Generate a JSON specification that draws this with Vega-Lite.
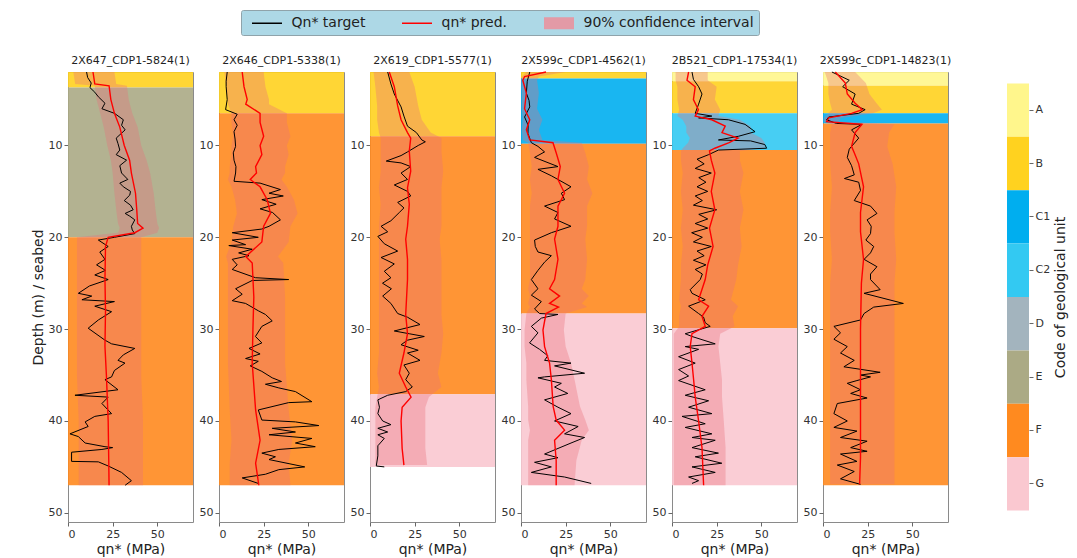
{
"$schema": "https://vega.github.io/schema/vega-lite/v6.json",
"background": "white",
"padding": {"left": 30, "top": 9, "right": 3, "bottom": 0},
"config": {
  "font": "DejaVu Sans",
  "view": {"stroke": "#8a8a8a"},
  "axis": {"labelFont": "DejaVu Sans", "labelFontSize": 11, "labelColor": "#333333", "titleFont": "DejaVu Sans", "titleFontSize": 14, "titleFontWeight": "normal", "titleColor": "#222222", "tickColor": "#666666", "tickSize": 4, "domain": false, "grid": false, "labelPadding": 2, "titlePadding": 3},
  "title": {"font": "DejaVu Sans", "fontSize": 11, "fontWeight": "normal", "color": "#222222", "offset": 3}
},
"datasets": {
"codes": [{"unit":"A"},{"unit":"B"},{"unit":"C1"},{"unit":"C2"},{"unit":"D"},{"unit":"E"},{"unit":"F"},{"unit":"G"}],
"units": [
{"well":"2X647_CDP1-5824(1)","unit":"B","top":2,"bottom":3.7},
{"well":"2X647_CDP1-5824(1)","unit":"E","top":3.7,"bottom":20},
{"well":"2X647_CDP1-5824(1)","unit":"F","top":20,"bottom":47},
{"well":"2X646_CDP1-5338(1)","unit":"B","top":2,"bottom":6.5},
{"well":"2X646_CDP1-5338(1)","unit":"F","top":6.5,"bottom":47},
{"well":"2X619_CDP1-5577(1)","unit":"B","top":2,"bottom":9},
{"well":"2X619_CDP1-5577(1)","unit":"F","top":9,"bottom":37.1},
{"well":"2X619_CDP1-5577(1)","unit":"G","top":37.1,"bottom":45},
{"well":"2X599c_CDP1-4562(1)","unit":"B","top":2,"bottom":2.7},
{"well":"2X599c_CDP1-4562(1)","unit":"C1","top":2.7,"bottom":9.8},
{"well":"2X599c_CDP1-4562(1)","unit":"F","top":9.8,"bottom":28.3},
{"well":"2X599c_CDP1-4562(1)","unit":"G","top":28.3,"bottom":47},
{"well":"2B521_CDP1-17534(1)","unit":"A","top":2,"bottom":3},
{"well":"2B521_CDP1-17534(1)","unit":"B","top":3,"bottom":6.5},
{"well":"2B521_CDP1-17534(1)","unit":"C2","top":6.5,"bottom":10.5},
{"well":"2B521_CDP1-17534(1)","unit":"F","top":10.5,"bottom":29.9},
{"well":"2B521_CDP1-17534(1)","unit":"G","top":29.9,"bottom":47},
{"well":"2X599c_CDP1-14823(1)","unit":"A","top":2,"bottom":3.5},
{"well":"2X599c_CDP1-14823(1)","unit":"B","top":3.5,"bottom":6.5},
{"well":"2X599c_CDP1-14823(1)","unit":"C1","top":6.5,"bottom":7.6},
{"well":"2X599c_CDP1-14823(1)","unit":"F","top":7.6,"bottom":47}
],
"pred": [
{"well":"2X647_CDP1-5824(1)","depth":2,"pred":14,"lo":3,"hi":26},
{"well":"2X647_CDP1-5824(1)","depth":3.3,"pred":15,"lo":4,"hi":27},
{"well":"2X647_CDP1-5824(1)","depth":3.5,"pred":23,"lo":15,"hi":33},
{"well":"2X647_CDP1-5824(1)","depth":5,"pred":24,"lo":16,"hi":34},
{"well":"2X647_CDP1-5824(1)","depth":6.5,"pred":26,"lo":18,"hi":36},
{"well":"2X647_CDP1-5824(1)","depth":8,"pred":29,"lo":20,"hi":39},
{"well":"2X647_CDP1-5824(1)","depth":10,"pred":31.5,"lo":22,"hi":41},
{"well":"2X647_CDP1-5824(1)","depth":11.6,"pred":34.5,"lo":24,"hi":44},
{"well":"2X647_CDP1-5824(1)","depth":13,"pred":35.5,"lo":25,"hi":46},
{"well":"2X647_CDP1-5824(1)","depth":15.2,"pred":37.8,"lo":26,"hi":48},
{"well":"2X647_CDP1-5824(1)","depth":17,"pred":38.5,"lo":27,"hi":49},
{"well":"2X647_CDP1-5824(1)","depth":18.5,"pred":39,"lo":28,"hi":50},
{"well":"2X647_CDP1-5824(1)","depth":19,"pred":42,"lo":29,"hi":51},
{"well":"2X647_CDP1-5824(1)","depth":19.5,"pred":37.4,"lo":28,"hi":50},
{"well":"2X647_CDP1-5824(1)","depth":20,"pred":22.5,"lo":5,"hi":41},
{"well":"2X647_CDP1-5824(1)","depth":21,"pred":21,"lo":5,"hi":41},
{"well":"2X647_CDP1-5824(1)","depth":24.6,"pred":20.7,"lo":5,"hi":41},
{"well":"2X647_CDP1-5824(1)","depth":28,"pred":21,"lo":5,"hi":41},
{"well":"2X647_CDP1-5824(1)","depth":31.9,"pred":20.7,"lo":5,"hi":41},
{"well":"2X647_CDP1-5824(1)","depth":35,"pred":21.5,"lo":5,"hi":41},
{"well":"2X647_CDP1-5824(1)","depth":40,"pred":22.5,"lo":6,"hi":42},
{"well":"2X647_CDP1-5824(1)","depth":44,"pred":22.8,"lo":6,"hi":42},
{"well":"2X647_CDP1-5824(1)","depth":47,"pred":23,"lo":6,"hi":42},
{"well":"2X646_CDP1-5338(1)","depth":2,"pred":13,"lo":3,"hi":25},
{"well":"2X646_CDP1-5338(1)","depth":3.6,"pred":14,"lo":4,"hi":26},
{"well":"2X646_CDP1-5338(1)","depth":5,"pred":15.8,"lo":5,"hi":28},
{"well":"2X646_CDP1-5338(1)","depth":5.5,"pred":15,"lo":5,"hi":28},
{"well":"2X646_CDP1-5338(1)","depth":6.5,"pred":23,"lo":7,"hi":38},
{"well":"2X646_CDP1-5338(1)","depth":7.5,"pred":23,"lo":7,"hi":38},
{"well":"2X646_CDP1-5338(1)","depth":9,"pred":25,"lo":8,"hi":40},
{"well":"2X646_CDP1-5338(1)","depth":10,"pred":23,"lo":7,"hi":38},
{"well":"2X646_CDP1-5338(1)","depth":11,"pred":24,"lo":7,"hi":39},
{"well":"2X646_CDP1-5338(1)","depth":12.3,"pred":20.5,"lo":6,"hi":37},
{"well":"2X646_CDP1-5338(1)","depth":13,"pred":21,"lo":6,"hi":37},
{"well":"2X646_CDP1-5338(1)","depth":13.7,"pred":17.5,"lo":5,"hi":35},
{"well":"2X646_CDP1-5338(1)","depth":14.5,"pred":23,"lo":7,"hi":38},
{"well":"2X646_CDP1-5338(1)","depth":15.9,"pred":27,"lo":9,"hi":42},
{"well":"2X646_CDP1-5338(1)","depth":17.4,"pred":28.8,"lo":10,"hi":44},
{"well":"2X646_CDP1-5338(1)","depth":18.8,"pred":25,"lo":8,"hi":40},
{"well":"2X646_CDP1-5338(1)","depth":20.5,"pred":24,"lo":7,"hi":39},
{"well":"2X646_CDP1-5338(1)","depth":22.1,"pred":15,"lo":4,"hi":33},
{"well":"2X646_CDP1-5338(1)","depth":22.8,"pred":18.6,"lo":5,"hi":36},
{"well":"2X646_CDP1-5338(1)","depth":26.5,"pred":19.5,"lo":5,"hi":37},
{"well":"2X646_CDP1-5338(1)","depth":30,"pred":19,"lo":5,"hi":37},
{"well":"2X646_CDP1-5338(1)","depth":33.7,"pred":18.6,"lo":5,"hi":37},
{"well":"2X646_CDP1-5338(1)","depth":38.8,"pred":20.5,"lo":6,"hi":39},
{"well":"2X646_CDP1-5338(1)","depth":42.1,"pred":23,"lo":7,"hi":41},
{"well":"2X646_CDP1-5338(1)","depth":44.6,"pred":20.5,"lo":6,"hi":39},
{"well":"2X646_CDP1-5338(1)","depth":47,"pred":22.3,"lo":6,"hi":40},
{"well":"2X619_CDP1-5577(1)","depth":2,"pred":10.8,"lo":2,"hi":22},
{"well":"2X619_CDP1-5577(1)","depth":3.6,"pred":13.6,"lo":3,"hi":25},
{"well":"2X619_CDP1-5577(1)","depth":5.7,"pred":15.5,"lo":4,"hi":27},
{"well":"2X619_CDP1-5577(1)","depth":7.2,"pred":17.4,"lo":4,"hi":29},
{"well":"2X619_CDP1-5577(1)","depth":8.6,"pred":21,"lo":5,"hi":34},
{"well":"2X619_CDP1-5577(1)","depth":9.2,"pred":22.8,"lo":6,"hi":40},
{"well":"2X619_CDP1-5577(1)","depth":10.6,"pred":22,"lo":6,"hi":40},
{"well":"2X619_CDP1-5577(1)","depth":12.8,"pred":22.8,"lo":6,"hi":41},
{"well":"2X619_CDP1-5577(1)","depth":14.6,"pred":21,"lo":5,"hi":40},
{"well":"2X619_CDP1-5577(1)","depth":16.4,"pred":22,"lo":6,"hi":40},
{"well":"2X619_CDP1-5577(1)","depth":18.8,"pred":21,"lo":5,"hi":40},
{"well":"2X619_CDP1-5577(1)","depth":20.2,"pred":20,"lo":5,"hi":39},
{"well":"2X619_CDP1-5577(1)","depth":22.4,"pred":21,"lo":5,"hi":40},
{"well":"2X619_CDP1-5577(1)","depth":24.6,"pred":21,"lo":5,"hi":40},
{"well":"2X619_CDP1-5577(1)","depth":28.4,"pred":20,"lo":5,"hi":40},
{"well":"2X619_CDP1-5577(1)","depth":30.5,"pred":21,"lo":5,"hi":41},
{"well":"2X619_CDP1-5577(1)","depth":32.6,"pred":19,"lo":5,"hi":40},
{"well":"2X619_CDP1-5577(1)","depth":34.8,"pred":16.4,"lo":4,"hi":38},
{"well":"2X619_CDP1-5577(1)","depth":36.3,"pred":20,"lo":5,"hi":40},
{"well":"2X619_CDP1-5577(1)","depth":37.4,"pred":23,"lo":4,"hi":33},
{"well":"2X619_CDP1-5577(1)","depth":38.5,"pred":18,"lo":3,"hi":31},
{"well":"2X619_CDP1-5577(1)","depth":40,"pred":17.4,"lo":3,"hi":31},
{"well":"2X619_CDP1-5577(1)","depth":43,"pred":18,"lo":3,"hi":31},
{"well":"2X619_CDP1-5577(1)","depth":44.8,"pred":19,"lo":3,"hi":32},
{"well":"2X599c_CDP1-4562(1)","depth":2,"pred":14,"lo":3,"hi":25},
{"well":"2X599c_CDP1-4562(1)","depth":2.5,"pred":2,"lo":0.5,"hi":10},
{"well":"2X599c_CDP1-4562(1)","depth":2.9,"pred":1,"lo":0.3,"hi":9},
{"well":"2X599c_CDP1-4562(1)","depth":4.3,"pred":3,"lo":0.5,"hi":10},
{"well":"2X599c_CDP1-4562(1)","depth":6,"pred":2,"lo":0.5,"hi":9},
{"well":"2X599c_CDP1-4562(1)","depth":7.2,"pred":4.9,"lo":1,"hi":12},
{"well":"2X599c_CDP1-4562(1)","depth":8.3,"pred":3,"lo":0.5,"hi":10},
{"well":"2X599c_CDP1-4562(1)","depth":9.4,"pred":4.9,"lo":1,"hi":12},
{"well":"2X599c_CDP1-4562(1)","depth":9.7,"pred":17.9,"lo":4,"hi":34},
{"well":"2X599c_CDP1-4562(1)","depth":10.8,"pred":19.7,"lo":5,"hi":36},
{"well":"2X599c_CDP1-4562(1)","depth":12.3,"pred":22,"lo":6,"hi":38},
{"well":"2X599c_CDP1-4562(1)","depth":13.7,"pred":20.7,"lo":5,"hi":37},
{"well":"2X599c_CDP1-4562(1)","depth":15.2,"pred":24.4,"lo":6,"hi":40},
{"well":"2X599c_CDP1-4562(1)","depth":16.6,"pred":20.7,"lo":5,"hi":37},
{"well":"2X599c_CDP1-4562(1)","depth":18.8,"pred":20.7,"lo":5,"hi":37},
{"well":"2X599c_CDP1-4562(1)","depth":20.2,"pred":18.8,"lo":5,"hi":36},
{"well":"2X599c_CDP1-4562(1)","depth":22.4,"pred":20.7,"lo":5,"hi":37},
{"well":"2X599c_CDP1-4562(1)","depth":24.6,"pred":18.8,"lo":5,"hi":36},
{"well":"2X599c_CDP1-4562(1)","depth":25.6,"pred":16,"lo":4,"hi":34},
{"well":"2X599c_CDP1-4562(1)","depth":26.4,"pred":21.6,"lo":5,"hi":38},
{"well":"2X599c_CDP1-4562(1)","depth":27.2,"pred":16,"lo":4,"hi":34},
{"well":"2X599c_CDP1-4562(1)","depth":27.6,"pred":21,"lo":5,"hi":37},
{"well":"2X599c_CDP1-4562(1)","depth":28.3,"pred":14,"lo":3,"hi":25},
{"well":"2X599c_CDP1-4562(1)","depth":30.1,"pred":12.3,"lo":2,"hi":24},
{"well":"2X599c_CDP1-4562(1)","depth":31.9,"pred":13.2,"lo":2,"hi":25},
{"well":"2X599c_CDP1-4562(1)","depth":33.7,"pred":16,"lo":3,"hi":28},
{"well":"2X599c_CDP1-4562(1)","depth":35.5,"pred":17,"lo":3,"hi":30},
{"well":"2X599c_CDP1-4562(1)","depth":38.4,"pred":18,"lo":4,"hi":33},
{"well":"2X599c_CDP1-4562(1)","depth":39.9,"pred":19.7,"lo":4,"hi":36},
{"well":"2X599c_CDP1-4562(1)","depth":41,"pred":24.4,"lo":5,"hi":38},
{"well":"2X599c_CDP1-4562(1)","depth":42.1,"pred":18.8,"lo":4,"hi":34},
{"well":"2X599c_CDP1-4562(1)","depth":44.3,"pred":19.7,"lo":4,"hi":31},
{"well":"2X599c_CDP1-4562(1)","depth":47,"pred":19.7,"lo":4,"hi":30},
{"well":"2B521_CDP1-17534(1)","depth":2,"pred":9.3,"lo":2,"hi":20},
{"well":"2B521_CDP1-17534(1)","depth":2.9,"pred":8.4,"lo":2,"hi":20},
{"well":"2B521_CDP1-17534(1)","depth":3.6,"pred":13,"lo":3,"hi":25},
{"well":"2B521_CDP1-17534(1)","depth":5,"pred":12,"lo":3,"hi":24},
{"well":"2B521_CDP1-17534(1)","depth":6.1,"pred":14.8,"lo":4,"hi":27},
{"well":"2B521_CDP1-17534(1)","depth":6.8,"pred":13,"lo":3,"hi":26},
{"well":"2B521_CDP1-17534(1)","depth":7.2,"pred":22.3,"lo":6,"hi":38},
{"well":"2B521_CDP1-17534(1)","depth":7.9,"pred":29.8,"lo":8,"hi":44},
{"well":"2B521_CDP1-17534(1)","depth":8.6,"pred":28,"lo":8,"hi":44},
{"well":"2B521_CDP1-17534(1)","depth":9.2,"pred":37,"lo":10,"hi":50},
{"well":"2B521_CDP1-17534(1)","depth":9.7,"pred":32,"lo":9,"hi":52},
{"well":"2B521_CDP1-17534(1)","depth":10.3,"pred":24,"lo":6,"hi":52},
{"well":"2B521_CDP1-17534(1)","depth":10.6,"pred":21,"lo":5,"hi":38},
{"well":"2B521_CDP1-17534(1)","depth":11.6,"pred":22,"lo":5,"hi":38},
{"well":"2B521_CDP1-17534(1)","depth":13,"pred":24,"lo":6,"hi":40},
{"well":"2B521_CDP1-17534(1)","depth":15,"pred":22,"lo":5,"hi":38},
{"well":"2B521_CDP1-17534(1)","depth":17,"pred":24,"lo":6,"hi":40},
{"well":"2B521_CDP1-17534(1)","depth":19,"pred":21,"lo":5,"hi":38},
{"well":"2B521_CDP1-17534(1)","depth":21,"pred":23,"lo":6,"hi":39},
{"well":"2B521_CDP1-17534(1)","depth":23,"pred":20,"lo":5,"hi":37},
{"well":"2B521_CDP1-17534(1)","depth":24.6,"pred":18.6,"lo":5,"hi":36},
{"well":"2B521_CDP1-17534(1)","depth":26.8,"pred":14.9,"lo":4,"hi":33},
{"well":"2B521_CDP1-17534(1)","depth":27.5,"pred":20.5,"lo":5,"hi":37},
{"well":"2B521_CDP1-17534(1)","depth":28.6,"pred":16.8,"lo":4,"hi":34},
{"well":"2B521_CDP1-17534(1)","depth":29.7,"pred":18.6,"lo":4,"hi":35},
{"well":"2B521_CDP1-17534(1)","depth":30.5,"pred":11.2,"lo":1,"hi":27},
{"well":"2B521_CDP1-17534(1)","depth":31.9,"pred":10.2,"lo":1,"hi":26},
{"well":"2B521_CDP1-17534(1)","depth":33.7,"pred":11.2,"lo":1,"hi":27},
{"well":"2B521_CDP1-17534(1)","depth":35.5,"pred":12.1,"lo":1,"hi":28},
{"well":"2B521_CDP1-17534(1)","depth":37.4,"pred":13,"lo":1,"hi":28},
{"well":"2B521_CDP1-17534(1)","depth":40,"pred":14.9,"lo":1,"hi":29},
{"well":"2B521_CDP1-17534(1)","depth":42.9,"pred":16.8,"lo":1,"hi":30},
{"well":"2B521_CDP1-17534(1)","depth":47,"pred":17.7,"lo":1,"hi":30},
{"well":"2X599c_CDP1-14823(1)","depth":2,"pred":6.9,"lo":1,"hi":18},
{"well":"2X599c_CDP1-14823(1)","depth":3.2,"pred":12.5,"lo":3,"hi":24},
{"well":"2X599c_CDP1-14823(1)","depth":4.4,"pred":13.6,"lo":3,"hi":26},
{"well":"2X599c_CDP1-14823(1)","depth":5.4,"pred":18,"lo":4,"hi":30},
{"well":"2X599c_CDP1-14823(1)","depth":6.1,"pred":22,"lo":5,"hi":33},
{"well":"2X599c_CDP1-14823(1)","depth":6.5,"pred":16,"lo":3,"hi":28},
{"well":"2X599c_CDP1-14823(1)","depth":7,"pred":3.2,"lo":0.5,"hi":10},
{"well":"2X599c_CDP1-14823(1)","depth":7.4,"pred":2,"lo":0.5,"hi":9},
{"well":"2X599c_CDP1-14823(1)","depth":7.7,"pred":21.8,"lo":5,"hi":40},
{"well":"2X599c_CDP1-14823(1)","depth":8.6,"pred":18,"lo":4,"hi":37},
{"well":"2X599c_CDP1-14823(1)","depth":10.1,"pred":16,"lo":4,"hi":36},
{"well":"2X599c_CDP1-14823(1)","depth":10.8,"pred":17.5,"lo":4,"hi":37},
{"well":"2X599c_CDP1-14823(1)","depth":12,"pred":20,"lo":4,"hi":39},
{"well":"2X599c_CDP1-14823(1)","depth":14.5,"pred":22.7,"lo":5,"hi":41},
{"well":"2X599c_CDP1-14823(1)","depth":17.3,"pred":21,"lo":4,"hi":40},
{"well":"2X599c_CDP1-14823(1)","depth":19.4,"pred":21,"lo":4,"hi":40},
{"well":"2X599c_CDP1-14823(1)","depth":22.4,"pred":22.7,"lo":5,"hi":41},
{"well":"2X599c_CDP1-14823(1)","depth":25,"pred":21.5,"lo":4,"hi":40},
{"well":"2X599c_CDP1-14823(1)","depth":30,"pred":21,"lo":4,"hi":40},
{"well":"2X599c_CDP1-14823(1)","depth":35,"pred":21,"lo":4,"hi":40},
{"well":"2X599c_CDP1-14823(1)","depth":40,"pred":21,"lo":4,"hi":40},
{"well":"2X599c_CDP1-14823(1)","depth":44,"pred":21,"lo":4,"hi":40},
{"well":"2X599c_CDP1-14823(1)","depth":46.9,"pred":20.5,"lo":4,"hi":40}
],
"target": [
{"well":"2X647_CDP1-5824(1)","depth":2,"qn":10.4},{"well":"2X647_CDP1-5824(1)","depth":2.6,"qn":11},{"well":"2X647_CDP1-5824(1)","depth":3.2,"qn":13},{"well":"2X647_CDP1-5824(1)","depth":3.7,"qn":12.3},{"well":"2X647_CDP1-5824(1)","depth":4.2,"qn":15},{"well":"2X647_CDP1-5824(1)","depth":4.7,"qn":17},{"well":"2X647_CDP1-5824(1)","depth":5.4,"qn":20.7},{"well":"2X647_CDP1-5824(1)","depth":6,"qn":19},{"well":"2X647_CDP1-5824(1)","depth":6.5,"qn":26},{"well":"2X647_CDP1-5824(1)","depth":7.2,"qn":31},{"well":"2X647_CDP1-5824(1)","depth":7.8,"qn":30},{"well":"2X647_CDP1-5824(1)","depth":8.3,"qn":32},{"well":"2X647_CDP1-5824(1)","depth":9.2,"qn":27},{"well":"2X647_CDP1-5824(1)","depth":9.8,"qn":28},{"well":"2X647_CDP1-5824(1)","depth":10.5,"qn":29},{"well":"2X647_CDP1-5824(1)","depth":11,"qn":27},{"well":"2X647_CDP1-5824(1)","depth":11.6,"qn":32.8},{"well":"2X647_CDP1-5824(1)","depth":12.2,"qn":29},{"well":"2X647_CDP1-5824(1)","depth":13,"qn":30},{"well":"2X647_CDP1-5824(1)","depth":13.7,"qn":33.5},{"well":"2X647_CDP1-5824(1)","depth":14.1,"qn":29},{"well":"2X647_CDP1-5824(1)","depth":14.5,"qn":31},{"well":"2X647_CDP1-5824(1)","depth":15,"qn":35},{"well":"2X647_CDP1-5824(1)","depth":15.4,"qn":34.6},{"well":"2X647_CDP1-5824(1)","depth":16,"qn":31.5},{"well":"2X647_CDP1-5824(1)","depth":16.5,"qn":35},{"well":"2X647_CDP1-5824(1)","depth":17,"qn":36.5},{"well":"2X647_CDP1-5824(1)","depth":17.4,"qn":32},{"well":"2X647_CDP1-5824(1)","depth":17.7,"qn":34.6},{"well":"2X647_CDP1-5824(1)","depth":18.1,"qn":37.4},{"well":"2X647_CDP1-5824(1)","depth":18.8,"qn":35.5},{"well":"2X647_CDP1-5824(1)","depth":19.2,"qn":36},{"well":"2X647_CDP1-5824(1)","depth":19.6,"qn":37.4},{"well":"2X647_CDP1-5824(1)","depth":20,"qn":26},{"well":"2X647_CDP1-5824(1)","depth":20.3,"qn":17},{"well":"2X647_CDP1-5824(1)","depth":21,"qn":22.5},{"well":"2X647_CDP1-5824(1)","depth":21.6,"qn":17.8},{"well":"2X647_CDP1-5824(1)","depth":22.4,"qn":20.7},{"well":"2X647_CDP1-5824(1)","depth":23,"qn":16},{"well":"2X647_CDP1-5824(1)","depth":23.6,"qn":21},{"well":"2X647_CDP1-5824(1)","depth":24.1,"qn":15},{"well":"2X647_CDP1-5824(1)","depth":24.6,"qn":22.5},{"well":"2X647_CDP1-5824(1)","depth":25.3,"qn":12},{"well":"2X647_CDP1-5824(1)","depth":26.1,"qn":5.8},{"well":"2X647_CDP1-5824(1)","depth":26.4,"qn":13.3},{"well":"2X647_CDP1-5824(1)","depth":26.8,"qn":7.8},{"well":"2X647_CDP1-5824(1)","depth":27,"qn":26},{"well":"2X647_CDP1-5824(1)","depth":27.5,"qn":15},{"well":"2X647_CDP1-5824(1)","depth":28.1,"qn":24.4},{"well":"2X647_CDP1-5824(1)","depth":29,"qn":17},{"well":"2X647_CDP1-5824(1)","depth":29.9,"qn":11.3},{"well":"2X647_CDP1-5824(1)","depth":31.2,"qn":20.7},{"well":"2X647_CDP1-5824(1)","depth":31.6,"qn":24.4},{"well":"2X647_CDP1-5824(1)","depth":32.1,"qn":37.4},{"well":"2X647_CDP1-5824(1)","depth":32.8,"qn":31},{"well":"2X647_CDP1-5824(1)","depth":33.4,"qn":28},{"well":"2X647_CDP1-5824(1)","depth":33.7,"qn":31.9},{"well":"2X647_CDP1-5824(1)","depth":34.5,"qn":26},{"well":"2X647_CDP1-5824(1)","depth":35.2,"qn":24.4},{"well":"2X647_CDP1-5824(1)","depth":35.5,"qn":20.7},{"well":"2X647_CDP1-5824(1)","depth":36.6,"qn":28},{"well":"2X647_CDP1-5824(1)","depth":37.2,"qn":3.9},{"well":"2X647_CDP1-5824(1)","depth":37.4,"qn":22.5},{"well":"2X647_CDP1-5824(1)","depth":38.1,"qn":19},{"well":"2X647_CDP1-5824(1)","depth":39.2,"qn":24.4},{"well":"2X647_CDP1-5824(1)","depth":39.5,"qn":15},{"well":"2X647_CDP1-5824(1)","depth":40.1,"qn":9.6},{"well":"2X647_CDP1-5824(1)","depth":40.6,"qn":11.3},{"well":"2X647_CDP1-5824(1)","depth":41.4,"qn":1.1},{"well":"2X647_CDP1-5824(1)","depth":41.7,"qn":5.8},{"well":"2X647_CDP1-5824(1)","depth":42.4,"qn":9.6},{"well":"2X647_CDP1-5824(1)","depth":42.8,"qn":20.7},{"well":"2X647_CDP1-5824(1)","depth":42.9,"qn":25},{"well":"2X647_CDP1-5824(1)","depth":43.1,"qn":19},{"well":"2X647_CDP1-5824(1)","depth":43.4,"qn":2},{"well":"2X647_CDP1-5824(1)","depth":44.4,"qn":2},{"well":"2X647_CDP1-5824(1)","depth":44.45,"qn":17},{"well":"2X647_CDP1-5824(1)","depth":44.9,"qn":22.5},{"well":"2X647_CDP1-5824(1)","depth":45.6,"qn":30},{"well":"2X647_CDP1-5824(1)","depth":46.5,"qn":35.5},{"well":"2X647_CDP1-5824(1)","depth":47,"qn":32},
{"well":"2X646_CDP1-5338(1)","depth":2,"qn":4.6},{"well":"2X646_CDP1-5338(1)","depth":3,"qn":4},{"well":"2X646_CDP1-5338(1)","depth":3.6,"qn":4},{"well":"2X646_CDP1-5338(1)","depth":5,"qn":4.6},{"well":"2X646_CDP1-5338(1)","depth":6.1,"qn":3.7},{"well":"2X646_CDP1-5338(1)","depth":6.6,"qn":10.2},{"well":"2X646_CDP1-5338(1)","depth":7.2,"qn":8.4},{"well":"2X646_CDP1-5338(1)","depth":7.8,"qn":10.2},{"well":"2X646_CDP1-5338(1)","depth":8.5,"qn":8.4},{"well":"2X646_CDP1-5338(1)","depth":9.3,"qn":9},{"well":"2X646_CDP1-5338(1)","depth":10.1,"qn":9.3},{"well":"2X646_CDP1-5338(1)","depth":10.8,"qn":8},{"well":"2X646_CDP1-5338(1)","depth":11.6,"qn":8.4},{"well":"2X646_CDP1-5338(1)","depth":12.3,"qn":9.5},{"well":"2X646_CDP1-5338(1)","depth":13,"qn":9.3},{"well":"2X646_CDP1-5338(1)","depth":13.9,"qn":8.4},{"well":"2X646_CDP1-5338(1)","depth":14.1,"qn":23},{"well":"2X646_CDP1-5338(1)","depth":14.8,"qn":34.4},{"well":"2X646_CDP1-5338(1)","depth":15.2,"qn":28},{"well":"2X646_CDP1-5338(1)","depth":15.5,"qn":36},{"well":"2X646_CDP1-5338(1)","depth":15.9,"qn":24},{"well":"2X646_CDP1-5338(1)","depth":16.4,"qn":32},{"well":"2X646_CDP1-5338(1)","depth":16.9,"qn":23},{"well":"2X646_CDP1-5338(1)","depth":17.3,"qn":30},{"well":"2X646_CDP1-5338(1)","depth":18.1,"qn":34.4},{"well":"2X646_CDP1-5338(1)","depth":18.8,"qn":28},{"well":"2X646_CDP1-5338(1)","depth":19.1,"qn":24},{"well":"2X646_CDP1-5338(1)","depth":19.5,"qn":7.4},{"well":"2X646_CDP1-5338(1)","depth":20,"qn":22},{"well":"2X646_CDP1-5338(1)","depth":20.3,"qn":7.4},{"well":"2X646_CDP1-5338(1)","depth":20.8,"qn":14.9},{"well":"2X646_CDP1-5338(1)","depth":20.9,"qn":5.5},{"well":"2X646_CDP1-5338(1)","depth":21.3,"qn":18.6},{"well":"2X646_CDP1-5338(1)","depth":21.7,"qn":11},{"well":"2X646_CDP1-5338(1)","depth":22,"qn":16.8},{"well":"2X646_CDP1-5338(1)","depth":22.4,"qn":7.4},{"well":"2X646_CDP1-5338(1)","depth":23,"qn":10.2},{"well":"2X646_CDP1-5338(1)","depth":23.5,"qn":7.4},{"well":"2X646_CDP1-5338(1)","depth":24.4,"qn":20.4},{"well":"2X646_CDP1-5338(1)","depth":24.6,"qn":39},{"well":"2X646_CDP1-5338(1)","depth":24.7,"qn":18.6},{"well":"2X646_CDP1-5338(1)","depth":25.6,"qn":9.3},{"well":"2X646_CDP1-5338(1)","depth":26.2,"qn":13},{"well":"2X646_CDP1-5338(1)","depth":26.9,"qn":7.4},{"well":"2X646_CDP1-5338(1)","depth":27.2,"qn":14.9},{"well":"2X646_CDP1-5338(1)","depth":28,"qn":22},{"well":"2X646_CDP1-5338(1)","depth":28.4,"qn":26},{"well":"2X646_CDP1-5338(1)","depth":29.1,"qn":29.8},{"well":"2X646_CDP1-5338(1)","depth":29.7,"qn":24},{"well":"2X646_CDP1-5338(1)","depth":30.8,"qn":20.4},{"well":"2X646_CDP1-5338(1)","depth":31.5,"qn":24},{"well":"2X646_CDP1-5338(1)","depth":32.1,"qn":16.8},{"well":"2X646_CDP1-5338(1)","depth":32.7,"qn":23},{"well":"2X646_CDP1-5338(1)","depth":33.2,"qn":14.9},{"well":"2X646_CDP1-5338(1)","depth":33.5,"qn":22},{"well":"2X646_CDP1-5338(1)","depth":34,"qn":17.5},{"well":"2X646_CDP1-5338(1)","depth":34.6,"qn":24},{"well":"2X646_CDP1-5338(1)","depth":35.3,"qn":29.8},{"well":"2X646_CDP1-5338(1)","depth":35.7,"qn":35},{"well":"2X646_CDP1-5338(1)","depth":36,"qn":26},{"well":"2X646_CDP1-5338(1)","depth":36.4,"qn":33.5},{"well":"2X646_CDP1-5338(1)","depth":36.8,"qn":42.8},{"well":"2X646_CDP1-5338(1)","depth":37.9,"qn":52},{"well":"2X646_CDP1-5338(1)","depth":38,"qn":39},{"well":"2X646_CDP1-5338(1)","depth":38.8,"qn":22},{"well":"2X646_CDP1-5338(1)","depth":39.9,"qn":24},{"well":"2X646_CDP1-5338(1)","depth":40.1,"qn":42.8},{"well":"2X646_CDP1-5338(1)","depth":40.5,"qn":55.9},{"well":"2X646_CDP1-5338(1)","depth":40.8,"qn":29.8},{"well":"2X646_CDP1-5338(1)","depth":41.2,"qn":42.8},{"well":"2X646_CDP1-5338(1)","depth":41.5,"qn":28},{"well":"2X646_CDP1-5338(1)","depth":41.9,"qn":52},{"well":"2X646_CDP1-5338(1)","depth":42.4,"qn":42.8},{"well":"2X646_CDP1-5338(1)","depth":42.8,"qn":53.9},{"well":"2X646_CDP1-5338(1)","depth":43.1,"qn":33.5},{"well":"2X646_CDP1-5338(1)","depth":43.5,"qn":24},{"well":"2X646_CDP1-5338(1)","depth":43.9,"qn":31.6},{"well":"2X646_CDP1-5338(1)","depth":44.2,"qn":28},{"well":"2X646_CDP1-5338(1)","depth":45,"qn":48},{"well":"2X646_CDP1-5338(1)","depth":45.3,"qn":33.5},{"well":"2X646_CDP1-5338(1)","depth":45.8,"qn":26},{"well":"2X646_CDP1-5338(1)","depth":46.2,"qn":13},{"well":"2X646_CDP1-5338(1)","depth":46.8,"qn":22},
{"well":"2X619_CDP1-5577(1)","depth":2,"qn":9.9},{"well":"2X619_CDP1-5577(1)","depth":3.3,"qn":11.7},{"well":"2X619_CDP1-5577(1)","depth":4.4,"qn":13.6},{"well":"2X619_CDP1-5577(1)","depth":5.8,"qn":17.4},{"well":"2X619_CDP1-5577(1)","depth":6.8,"qn":19},{"well":"2X619_CDP1-5577(1)","depth":7.9,"qn":21},{"well":"2X619_CDP1-5577(1)","depth":8.6,"qn":26},{"well":"2X619_CDP1-5577(1)","depth":9.4,"qn":29},{"well":"2X619_CDP1-5577(1)","depth":9.6,"qn":31},{"well":"2X619_CDP1-5577(1)","depth":10,"qn":27},{"well":"2X619_CDP1-5577(1)","depth":10.7,"qn":21},{"well":"2X619_CDP1-5577(1)","depth":11.1,"qn":17.4},{"well":"2X619_CDP1-5577(1)","depth":11.7,"qn":9.1},{"well":"2X619_CDP1-5577(1)","depth":11.9,"qn":17.4},{"well":"2X619_CDP1-5577(1)","depth":12.3,"qn":22.8},{"well":"2X619_CDP1-5577(1)","depth":13,"qn":17.4},{"well":"2X619_CDP1-5577(1)","depth":13.7,"qn":21},{"well":"2X619_CDP1-5577(1)","depth":14.3,"qn":13.6},{"well":"2X619_CDP1-5577(1)","depth":15,"qn":21},{"well":"2X619_CDP1-5577(1)","depth":15.5,"qn":22.8},{"well":"2X619_CDP1-5577(1)","depth":16.2,"qn":15.5},{"well":"2X619_CDP1-5577(1)","depth":16.8,"qn":19},{"well":"2X619_CDP1-5577(1)","depth":17.3,"qn":16.4},{"well":"2X619_CDP1-5577(1)","depth":18.2,"qn":11.7},{"well":"2X619_CDP1-5577(1)","depth":18.8,"qn":6.2},{"well":"2X619_CDP1-5577(1)","depth":19.4,"qn":9.9},{"well":"2X619_CDP1-5577(1)","depth":19.9,"qn":4.4},{"well":"2X619_CDP1-5577(1)","depth":20.7,"qn":8},{"well":"2X619_CDP1-5577(1)","depth":21.5,"qn":15.5},{"well":"2X619_CDP1-5577(1)","depth":22.2,"qn":6.2},{"well":"2X619_CDP1-5577(1)","depth":22.9,"qn":13.6},{"well":"2X619_CDP1-5577(1)","depth":23.7,"qn":8},{"well":"2X619_CDP1-5577(1)","depth":24.4,"qn":11.7},{"well":"2X619_CDP1-5577(1)","depth":25,"qn":7},{"well":"2X619_CDP1-5577(1)","depth":25.6,"qn":12},{"well":"2X619_CDP1-5577(1)","depth":26.4,"qn":7.1},{"well":"2X619_CDP1-5577(1)","depth":27.2,"qn":11.7},{"well":"2X619_CDP1-5577(1)","depth":28.3,"qn":15.5},{"well":"2X619_CDP1-5577(1)","depth":28.7,"qn":21},{"well":"2X619_CDP1-5577(1)","depth":29.5,"qn":28},{"well":"2X619_CDP1-5577(1)","depth":30.2,"qn":13.6},{"well":"2X619_CDP1-5577(1)","depth":30.5,"qn":22},{"well":"2X619_CDP1-5577(1)","depth":30.8,"qn":30.4},{"well":"2X619_CDP1-5577(1)","depth":31.2,"qn":21},{"well":"2X619_CDP1-5577(1)","depth":31.7,"qn":17.4},{"well":"2X619_CDP1-5577(1)","depth":32.3,"qn":27},{"well":"2X619_CDP1-5577(1)","depth":32.6,"qn":21},{"well":"2X619_CDP1-5577(1)","depth":33.4,"qn":28},{"well":"2X619_CDP1-5577(1)","depth":33.9,"qn":19},{"well":"2X619_CDP1-5577(1)","depth":34.8,"qn":22},{"well":"2X619_CDP1-5577(1)","depth":35.5,"qn":20},{"well":"2X619_CDP1-5577(1)","depth":36.3,"qn":23.7},{"well":"2X619_CDP1-5577(1)","depth":36.8,"qn":20},{"well":"2X619_CDP1-5577(1)","depth":37.2,"qn":9.9},{"well":"2X619_CDP1-5577(1)","depth":37.7,"qn":4.4},{"well":"2X619_CDP1-5577(1)","depth":38.5,"qn":5.3},{"well":"2X619_CDP1-5577(1)","depth":39.2,"qn":4.4},{"well":"2X619_CDP1-5577(1)","depth":40,"qn":7.1},{"well":"2X619_CDP1-5577(1)","depth":40.4,"qn":11.7},{"well":"2X619_CDP1-5577(1)","depth":40.8,"qn":4.4},{"well":"2X619_CDP1-5577(1)","depth":41.2,"qn":9.9},{"well":"2X619_CDP1-5577(1)","depth":41.5,"qn":4.4},{"well":"2X619_CDP1-5577(1)","depth":41.9,"qn":8},{"well":"2X619_CDP1-5577(1)","depth":42.7,"qn":4.4},{"well":"2X619_CDP1-5577(1)","depth":43.8,"qn":4.4},{"well":"2X619_CDP1-5577(1)","depth":44.9,"qn":3.5},{"well":"2X619_CDP1-5577(1)","depth":45,"qn":8},
{"well":"2X599c_CDP1-4562(1)","depth":2,"qn":4.9},{"well":"2X599c_CDP1-4562(1)","depth":3,"qn":3.5},{"well":"2X599c_CDP1-4562(1)","depth":4.3,"qn":3},{"well":"2X599c_CDP1-4562(1)","depth":5.1,"qn":4.5},{"well":"2X599c_CDP1-4562(1)","depth":5.8,"qn":4.9},{"well":"2X599c_CDP1-4562(1)","depth":6.9,"qn":2},{"well":"2X599c_CDP1-4562(1)","depth":7.8,"qn":4},{"well":"2X599c_CDP1-4562(1)","depth":8.7,"qn":3.9},{"well":"2X599c_CDP1-4562(1)","depth":9.7,"qn":5.8},{"well":"2X599c_CDP1-4562(1)","depth":10.1,"qn":9.5},{"well":"2X599c_CDP1-4562(1)","depth":10.7,"qn":13.2},{"well":"2X599c_CDP1-4562(1)","depth":11.3,"qn":7.6},{"well":"2X599c_CDP1-4562(1)","depth":12.3,"qn":20.7},{"well":"2X599c_CDP1-4562(1)","depth":12.6,"qn":9.5},{"well":"2X599c_CDP1-4562(1)","depth":13.3,"qn":17},{"well":"2X599c_CDP1-4562(1)","depth":14.5,"qn":28},{"well":"2X599c_CDP1-4562(1)","depth":15.2,"qn":22.6},{"well":"2X599c_CDP1-4562(1)","depth":15.9,"qn":24.4},{"well":"2X599c_CDP1-4562(1)","depth":16.6,"qn":13.2},{"well":"2X599c_CDP1-4562(1)","depth":17.3,"qn":20.7},{"well":"2X599c_CDP1-4562(1)","depth":18,"qn":18.8},{"well":"2X599c_CDP1-4562(1)","depth":18.8,"qn":28},{"well":"2X599c_CDP1-4562(1)","depth":19.5,"qn":17},{"well":"2X599c_CDP1-4562(1)","depth":20.3,"qn":7.6},{"well":"2X599c_CDP1-4562(1)","depth":21,"qn":8},{"well":"2X599c_CDP1-4562(1)","depth":21.6,"qn":9.5},{"well":"2X599c_CDP1-4562(1)","depth":22,"qn":17},{"well":"2X599c_CDP1-4562(1)","depth":22.7,"qn":13.2},{"well":"2X599c_CDP1-4562(1)","depth":23.6,"qn":9.5},{"well":"2X599c_CDP1-4562(1)","depth":24.6,"qn":5.8},{"well":"2X599c_CDP1-4562(1)","depth":25.6,"qn":9.5},{"well":"2X599c_CDP1-4562(1)","depth":26.3,"qn":5.8},{"well":"2X599c_CDP1-4562(1)","depth":27,"qn":11.4},{"well":"2X599c_CDP1-4562(1)","depth":27.8,"qn":7.6},{"well":"2X599c_CDP1-4562(1)","depth":28.3,"qn":10.4},{"well":"2X599c_CDP1-4562(1)","depth":28.4,"qn":20.7},{"well":"2X599c_CDP1-4562(1)","depth":28.8,"qn":11.4},{"well":"2X599c_CDP1-4562(1)","depth":29.7,"qn":5.8},{"well":"2X599c_CDP1-4562(1)","depth":30.4,"qn":9.5},{"well":"2X599c_CDP1-4562(1)","depth":31.5,"qn":4.8},{"well":"2X599c_CDP1-4562(1)","depth":32.2,"qn":10.4},{"well":"2X599c_CDP1-4562(1)","depth":32.9,"qn":15},{"well":"2X599c_CDP1-4562(1)","depth":33.4,"qn":13.2},{"well":"2X599c_CDP1-4562(1)","depth":33.7,"qn":28},{"well":"2X599c_CDP1-4562(1)","depth":34,"qn":18.8},{"well":"2X599c_CDP1-4562(1)","depth":34.8,"qn":35.6},{"well":"2X599c_CDP1-4562(1)","depth":35.2,"qn":13.2},{"well":"2X599c_CDP1-4562(1)","depth":35.3,"qn":9.5},{"well":"2X599c_CDP1-4562(1)","depth":35.9,"qn":22.6},{"well":"2X599c_CDP1-4562(1)","depth":36.3,"qn":18.8},{"well":"2X599c_CDP1-4562(1)","depth":37,"qn":26.2},{"well":"2X599c_CDP1-4562(1)","depth":37.7,"qn":13.2},{"well":"2X599c_CDP1-4562(1)","depth":38.5,"qn":20.7},{"well":"2X599c_CDP1-4562(1)","depth":39.2,"qn":28},{"well":"2X599c_CDP1-4562(1)","depth":40,"qn":18.8},{"well":"2X599c_CDP1-4562(1)","depth":40.6,"qn":32},{"well":"2X599c_CDP1-4562(1)","depth":41.4,"qn":24.4},{"well":"2X599c_CDP1-4562(1)","depth":41.8,"qn":35.6},{"well":"2X599c_CDP1-4562(1)","depth":42.4,"qn":28},{"well":"2X599c_CDP1-4562(1)","depth":43.6,"qn":13.2},{"well":"2X599c_CDP1-4562(1)","depth":44,"qn":20.7},{"well":"2X599c_CDP1-4562(1)","depth":44.5,"qn":7.6},{"well":"2X599c_CDP1-4562(1)","depth":45,"qn":17},{"well":"2X599c_CDP1-4562(1)","depth":45.6,"qn":5.8},{"well":"2X599c_CDP1-4562(1)","depth":46.1,"qn":24.4},{"well":"2X599c_CDP1-4562(1)","depth":46.8,"qn":39.3},
{"well":"2B521_CDP1-17534(1)","depth":2,"qn":11.2},{"well":"2B521_CDP1-17534(1)","depth":2.8,"qn":12},{"well":"2B521_CDP1-17534(1)","depth":3.6,"qn":14.9},{"well":"2B521_CDP1-17534(1)","depth":4.4,"qn":16.8},{"well":"2B521_CDP1-17534(1)","depth":5.5,"qn":14.9},{"well":"2B521_CDP1-17534(1)","depth":6.5,"qn":13},{"well":"2B521_CDP1-17534(1)","depth":6.8,"qn":22.3},{"well":"2B521_CDP1-17534(1)","depth":7,"qn":14.9},{"well":"2B521_CDP1-17534(1)","depth":7.2,"qn":31.6},{"well":"2B521_CDP1-17534(1)","depth":7.7,"qn":40.9},{"well":"2B521_CDP1-17534(1)","depth":8.5,"qn":46.5},{"well":"2B521_CDP1-17534(1)","depth":9,"qn":37.2},{"well":"2B521_CDP1-17534(1)","depth":9.4,"qn":26},{"well":"2B521_CDP1-17534(1)","depth":9.5,"qn":44},{"well":"2B521_CDP1-17534(1)","depth":9.9,"qn":52},{"well":"2B521_CDP1-17534(1)","depth":10.3,"qn":53},{"well":"2B521_CDP1-17534(1)","depth":10.5,"qn":26},{"well":"2B521_CDP1-17534(1)","depth":11,"qn":20.5},{"well":"2B521_CDP1-17534(1)","depth":11.5,"qn":14},{"well":"2B521_CDP1-17534(1)","depth":12,"qn":18},{"well":"2B521_CDP1-17534(1)","depth":12.5,"qn":13},{"well":"2B521_CDP1-17534(1)","depth":13,"qn":22},{"well":"2B521_CDP1-17534(1)","depth":13.5,"qn":15},{"well":"2B521_CDP1-17534(1)","depth":14,"qn":19},{"well":"2B521_CDP1-17534(1)","depth":14.5,"qn":14},{"well":"2B521_CDP1-17534(1)","depth":15,"qn":20},{"well":"2B521_CDP1-17534(1)","depth":15.5,"qn":13},{"well":"2B521_CDP1-17534(1)","depth":16,"qn":17},{"well":"2B521_CDP1-17534(1)","depth":16.5,"qn":12},{"well":"2B521_CDP1-17534(1)","depth":17,"qn":25},{"well":"2B521_CDP1-17534(1)","depth":17.5,"qn":15},{"well":"2B521_CDP1-17534(1)","depth":18,"qn":20},{"well":"2B521_CDP1-17534(1)","depth":18.5,"qn":13},{"well":"2B521_CDP1-17534(1)","depth":19,"qn":20},{"well":"2B521_CDP1-17534(1)","depth":19.5,"qn":11},{"well":"2B521_CDP1-17534(1)","depth":20,"qn":17},{"well":"2B521_CDP1-17534(1)","depth":20.5,"qn":12},{"well":"2B521_CDP1-17534(1)","depth":21,"qn":22},{"well":"2B521_CDP1-17534(1)","depth":21.5,"qn":14},{"well":"2B521_CDP1-17534(1)","depth":22,"qn":18},{"well":"2B521_CDP1-17534(1)","depth":22.5,"qn":12},{"well":"2B521_CDP1-17534(1)","depth":23,"qn":19},{"well":"2B521_CDP1-17534(1)","depth":23.5,"qn":13},{"well":"2B521_CDP1-17534(1)","depth":24,"qn":17},{"well":"2B521_CDP1-17534(1)","depth":24.6,"qn":15.8},{"well":"2B521_CDP1-17534(1)","depth":25.7,"qn":10.2},{"well":"2B521_CDP1-17534(1)","depth":26.1,"qn":11.2},{"well":"2B521_CDP1-17534(1)","depth":26.8,"qn":18.6},{"well":"2B521_CDP1-17534(1)","depth":27.5,"qn":9.3},{"well":"2B521_CDP1-17534(1)","depth":28.3,"qn":14.9},{"well":"2B521_CDP1-17534(1)","depth":28.7,"qn":17.7},{"well":"2B521_CDP1-17534(1)","depth":29.3,"qn":18.6},{"well":"2B521_CDP1-17534(1)","depth":29.7,"qn":21.4},{"well":"2B521_CDP1-17534(1)","depth":30.5,"qn":7.4},{"well":"2B521_CDP1-17534(1)","depth":30.8,"qn":11.2},{"well":"2B521_CDP1-17534(1)","depth":31.6,"qn":24.2},{"well":"2B521_CDP1-17534(1)","depth":31.9,"qn":7.4},{"well":"2B521_CDP1-17534(1)","depth":32.2,"qn":14.9},{"well":"2B521_CDP1-17534(1)","depth":33,"qn":3.7},{"well":"2B521_CDP1-17534(1)","depth":33.7,"qn":13},{"well":"2B521_CDP1-17534(1)","depth":34.4,"qn":3.7},{"well":"2B521_CDP1-17534(1)","depth":35.1,"qn":9.3},{"well":"2B521_CDP1-17534(1)","depth":35.6,"qn":3.7},{"well":"2B521_CDP1-17534(1)","depth":36.6,"qn":18.6},{"well":"2B521_CDP1-17534(1)","depth":37.2,"qn":7.4},{"well":"2B521_CDP1-17534(1)","depth":37.8,"qn":20.5},{"well":"2B521_CDP1-17534(1)","depth":38.5,"qn":9.3},{"well":"2B521_CDP1-17534(1)","depth":39.2,"qn":22.3},{"well":"2B521_CDP1-17534(1)","depth":39.5,"qn":5.6},{"well":"2B521_CDP1-17534(1)","depth":40.3,"qn":18.6},{"well":"2B521_CDP1-17534(1)","depth":40.7,"qn":7.4},{"well":"2B521_CDP1-17534(1)","depth":41.4,"qn":22.3},{"well":"2B521_CDP1-17534(1)","depth":41.8,"qn":11.2},{"well":"2B521_CDP1-17534(1)","depth":42.1,"qn":24.2},{"well":"2B521_CDP1-17534(1)","depth":42.9,"qn":11.2},{"well":"2B521_CDP1-17534(1)","depth":43.5,"qn":26},{"well":"2B521_CDP1-17534(1)","depth":43.9,"qn":13},{"well":"2B521_CDP1-17534(1)","depth":44.6,"qn":27.9},{"well":"2B521_CDP1-17534(1)","depth":45,"qn":11.2},{"well":"2B521_CDP1-17534(1)","depth":45.6,"qn":24.2},{"well":"2B521_CDP1-17534(1)","depth":46.1,"qn":9.3},{"well":"2B521_CDP1-17534(1)","depth":46.5,"qn":14.9},{"well":"2B521_CDP1-17534(1)","depth":46.8,"qn":11.2},
{"well":"2X599c_CDP1-14823(1)","depth":2,"qn":5},{"well":"2X599c_CDP1-14823(1)","depth":2.9,"qn":14.7},{"well":"2X599c_CDP1-14823(1)","depth":3.6,"qn":11},{"well":"2X599c_CDP1-14823(1)","depth":4.4,"qn":18},{"well":"2X599c_CDP1-14823(1)","depth":5.5,"qn":16},{"well":"2X599c_CDP1-14823(1)","depth":6.1,"qn":23.6},{"well":"2X599c_CDP1-14823(1)","depth":6.5,"qn":20},{"well":"2X599c_CDP1-14823(1)","depth":6.9,"qn":3.2},{"well":"2X599c_CDP1-14823(1)","depth":7.2,"qn":2},{"well":"2X599c_CDP1-14823(1)","depth":7.6,"qn":7.5},{"well":"2X599c_CDP1-14823(1)","depth":7.7,"qn":21.8},{"well":"2X599c_CDP1-14823(1)","depth":8.3,"qn":16},{"well":"2X599c_CDP1-14823(1)","depth":9.2,"qn":20},{"well":"2X599c_CDP1-14823(1)","depth":10.4,"qn":14.7},{"well":"2X599c_CDP1-14823(1)","depth":11.3,"qn":13.6},{"well":"2X599c_CDP1-14823(1)","depth":12.2,"qn":16},{"well":"2X599c_CDP1-14823(1)","depth":13.2,"qn":17.5},{"well":"2X599c_CDP1-14823(1)","depth":13.6,"qn":12},{"well":"2X599c_CDP1-14823(1)","depth":14,"qn":20},{"well":"2X599c_CDP1-14823(1)","depth":14.9,"qn":21},{"well":"2X599c_CDP1-14823(1)","depth":16,"qn":17.5},{"well":"2X599c_CDP1-14823(1)","depth":16.6,"qn":26.6},{"well":"2X599c_CDP1-14823(1)","depth":17.4,"qn":30.2},{"well":"2X599c_CDP1-14823(1)","depth":18.1,"qn":24.7},{"well":"2X599c_CDP1-14823(1)","depth":18.8,"qn":27},{"well":"2X599c_CDP1-14823(1)","depth":19.6,"qn":26.6},{"well":"2X599c_CDP1-14823(1)","depth":20.3,"qn":24},{"well":"2X599c_CDP1-14823(1)","depth":21,"qn":28.4},{"well":"2X599c_CDP1-14823(1)","depth":21.7,"qn":26.6},{"well":"2X599c_CDP1-14823(1)","depth":22.4,"qn":23},{"well":"2X599c_CDP1-14823(1)","depth":23.2,"qn":30.2},{"well":"2X599c_CDP1-14823(1)","depth":24,"qn":26.6},{"well":"2X599c_CDP1-14823(1)","depth":24.6,"qn":26.6},{"well":"2X599c_CDP1-14823(1)","depth":25.7,"qn":32},{"well":"2X599c_CDP1-14823(1)","depth":26.1,"qn":23},{"well":"2X599c_CDP1-14823(1)","depth":27.2,"qn":45},{"well":"2X599c_CDP1-14823(1)","depth":27.6,"qn":28.4},{"well":"2X599c_CDP1-14823(1)","depth":28.3,"qn":23},{"well":"2X599c_CDP1-14823(1)","depth":29,"qn":21},{"well":"2X599c_CDP1-14823(1)","depth":29.7,"qn":6.1},{"well":"2X599c_CDP1-14823(1)","depth":30.4,"qn":9.8},{"well":"2X599c_CDP1-14823(1)","depth":31.1,"qn":6.1},{"well":"2X599c_CDP1-14823(1)","depth":31.9,"qn":13.6},{"well":"2X599c_CDP1-14823(1)","depth":32.6,"qn":9.8},{"well":"2X599c_CDP1-14823(1)","depth":33.4,"qn":17.5},{"well":"2X599c_CDP1-14823(1)","depth":34.1,"qn":11.7},{"well":"2X599c_CDP1-14823(1)","depth":34.7,"qn":32},{"well":"2X599c_CDP1-14823(1)","depth":35,"qn":21},{"well":"2X599c_CDP1-14823(1)","depth":35.2,"qn":26.6},{"well":"2X599c_CDP1-14823(1)","depth":35.6,"qn":19},{"well":"2X599c_CDP1-14823(1)","depth":35.9,"qn":13.6},{"well":"2X599c_CDP1-14823(1)","depth":36.6,"qn":21},{"well":"2X599c_CDP1-14823(1)","depth":37,"qn":15.5},{"well":"2X599c_CDP1-14823(1)","depth":37.5,"qn":24.7},{"well":"2X599c_CDP1-14823(1)","depth":38.1,"qn":8},{"well":"2X599c_CDP1-14823(1)","depth":39.2,"qn":6.1},{"well":"2X599c_CDP1-14823(1)","depth":40,"qn":13.6},{"well":"2X599c_CDP1-14823(1)","depth":40.7,"qn":6.1},{"well":"2X599c_CDP1-14823(1)","depth":41.1,"qn":19},{"well":"2X599c_CDP1-14823(1)","depth":41.8,"qn":9.8},{"well":"2X599c_CDP1-14823(1)","depth":42.2,"qn":24.7},{"well":"2X599c_CDP1-14823(1)","depth":42.9,"qn":15.5},{"well":"2X599c_CDP1-14823(1)","depth":43.3,"qn":24.7},{"well":"2X599c_CDP1-14823(1)","depth":43.6,"qn":9.8},{"well":"2X599c_CDP1-14823(1)","depth":44.4,"qn":19},{"well":"2X599c_CDP1-14823(1)","depth":44.8,"qn":8},{"well":"2X599c_CDP1-14823(1)","depth":45.5,"qn":17.5},{"well":"2X599c_CDP1-14823(1)","depth":46.3,"qn":9.8},{"well":"2X599c_CDP1-14823(1)","depth":46.9,"qn":21}
]
},
"spacing": 26,
"bounds": "flush",
"hconcat": [
{
"width": 125, "height": 450,
"title": "2X647_CDP1-5824(1)",
"layer": [
{"data": {"name": "units"}, "transform": [{"filter": "datum.well === '2X647_CDP1-5824(1)'"}], "mark": {"type": "rect", "opacity": 0.9},
 "encoding": {
  "y": {"field": "top", "type": "quantitative", "scale": {"domain": [2, 51], "reverse": true, "nice": false, "zero": false}, "axis": {"values": [10, 20, 30, 40, 50]}, "title": "Depth (m) / seabed"},
  "y2": {"field": "bottom"},
  "x": {"datum": 0, "type": "quantitative", "scale": {"domain": [0, 70], "nice": false, "zero": false}, "axis": {"values": [0, 25, 50]}, "title": "qn* (MPa)"},
  "x2": {"datum": 70},
  "fill": {"field": "unit", "type": "nominal", "scale": {"domain": ["A","B","C1","C2","D","E","F","G"], "range": ["#FFF68C","#FFD21F","#00AEEF","#33C9F2","#A3B4BE","#ABAA85","#FF8A1F","#FAC8D0"]}, "legend": null}
 }},
{"data": {"name": "pred"}, "transform": [{"filter": "datum.well === '2X647_CDP1-5824(1)'"}], "mark": {"type": "area", "color": "#E8707A", "opacity": 0.35},
 "encoding": {"y": {"field": "depth", "type": "quantitative", "title": "Depth (m) / seabed"}, "x": {"field": "lo", "type": "quantitative", "title": "qn* (MPa)"}, "x2": {"field": "hi"}}},
{"data": {"name": "target"}, "transform": [{"filter": "datum.well === '2X647_CDP1-5824(1)'"}], "mark": {"type": "line", "strokeWidth": 1},
 "encoding": {"y": {"field": "depth", "type": "quantitative", "title": "Depth (m) / seabed"}, "x": {"field": "qn", "type": "quantitative", "title": "qn* (MPa)"}, "order": {"field": "depth", "type": "quantitative"},
  "stroke": {"datum": "Qn* target", "type": "nominal",
   "scale": {"domain": ["Qn* target", "qn* pred.", "90% confidence interval"], "range": ["#000000", "#FF0000", "#E39AA6"]},
   "legend": {"orient": "none", "legendX": 173, "legendY": -62, "direction": "horizontal", "title": null, "fillColor": "#ADD8E6", "strokeColor": "#8FA3AA", "padding": 4.5, "cornerRadius": 2, "symbolType": "M-2,0H2", "symbolSize": 225, "symbolStrokeWidth": 1.5, "symbolOffset": 13, "labelFontSize": 14, "labelFont": "DejaVu Sans", "labelColor": "#222222", "labelLimit": 300, "columnPadding": 30, "labelOffset": 16,
    "encode": {"symbols": {"update": {
      "shape": {"signal": "datum.label === '90% confidence interval' ? 'M-2,-0.8H2V0.8H-2Z' : 'M-2,0H2'"},
      "fill": {"signal": "datum.label === '90% confidence interval' ? '#E39AA6' : 'transparent'"},
      "strokeOpacity": {"signal": "datum.label === '90% confidence interval' ? 0 : 1"}}}}}}
 }},
{"data": {"name": "pred"}, "transform": [{"filter": "datum.well === '2X647_CDP1-5824(1)'"}], "mark": {"type": "line", "strokeWidth": 1.4},
 "encoding": {"y": {"field": "depth", "type": "quantitative", "title": "Depth (m) / seabed"}, "x": {"field": "pred", "type": "quantitative", "title": "qn* (MPa)"}, "order": {"field": "depth", "type": "quantitative"}, "stroke": {"datum": "qn* pred.", "type": "nominal"}}}
]
},
{
"width": 125, "height": 450,
"title": "2X646_CDP1-5338(1)",
"layer": [
{"data": {"name": "units"}, "transform": [{"filter": "datum.well === '2X646_CDP1-5338(1)'"}], "mark": {"type": "rect", "opacity": 0.9},
 "encoding": {
  "y": {"field": "top", "type": "quantitative", "scale": {"domain": [2, 51], "reverse": true, "nice": false, "zero": false}, "axis": {"values": [10, 20, 30, 40, 50]}, "title": null},
  "y2": {"field": "bottom"},
  "x": {"datum": 0, "type": "quantitative", "scale": {"domain": [0, 70], "nice": false, "zero": false}, "axis": {"values": [0, 25, 50]}, "title": "qn* (MPa)"},
  "x2": {"datum": 70},
  "fill": {"field": "unit", "type": "nominal", "legend": null}
 }},
{"data": {"name": "pred"}, "transform": [{"filter": "datum.well === '2X646_CDP1-5338(1)'"}], "mark": {"type": "area", "color": "#E8707A", "opacity": 0.35},
 "encoding": {"y": {"field": "depth", "type": "quantitative", "title": null}, "x": {"field": "lo", "type": "quantitative", "title": "qn* (MPa)"}, "x2": {"field": "hi"}}},
{"data": {"name": "target"}, "transform": [{"filter": "datum.well === '2X646_CDP1-5338(1)'"}], "mark": {"type": "line", "strokeWidth": 1},
 "encoding": {"y": {"field": "depth", "type": "quantitative", "title": null}, "x": {"field": "qn", "type": "quantitative", "title": "qn* (MPa)"}, "order": {"field": "depth", "type": "quantitative"}, "stroke": {"datum": "Qn* target", "type": "nominal"}}},
{"data": {"name": "pred"}, "transform": [{"filter": "datum.well === '2X646_CDP1-5338(1)'"}], "mark": {"type": "line", "strokeWidth": 1.4},
 "encoding": {"y": {"field": "depth", "type": "quantitative", "title": null}, "x": {"field": "pred", "type": "quantitative", "title": "qn* (MPa)"}, "order": {"field": "depth", "type": "quantitative"}, "stroke": {"datum": "qn* pred.", "type": "nominal"}}}
]
},
{
"width": 125, "height": 450,
"title": "2X619_CDP1-5577(1)",
"layer": [
{"data": {"name": "units"}, "transform": [{"filter": "datum.well === '2X619_CDP1-5577(1)'"}], "mark": {"type": "rect", "opacity": 0.9},
 "encoding": {
  "y": {"field": "top", "type": "quantitative", "scale": {"domain": [2, 51], "reverse": true, "nice": false, "zero": false}, "axis": {"values": [10, 20, 30, 40, 50]}, "title": null},
  "y2": {"field": "bottom"},
  "x": {"datum": 0, "type": "quantitative", "scale": {"domain": [0, 70], "nice": false, "zero": false}, "axis": {"values": [0, 25, 50]}, "title": "qn* (MPa)"},
  "x2": {"datum": 70},
  "fill": {"field": "unit", "type": "nominal", "legend": null}
 }},
{"data": {"name": "pred"}, "transform": [{"filter": "datum.well === '2X619_CDP1-5577(1)'"}], "mark": {"type": "area", "color": "#E8707A", "opacity": 0.35},
 "encoding": {"y": {"field": "depth", "type": "quantitative", "title": null}, "x": {"field": "lo", "type": "quantitative", "title": "qn* (MPa)"}, "x2": {"field": "hi"}}},
{"data": {"name": "target"}, "transform": [{"filter": "datum.well === '2X619_CDP1-5577(1)'"}], "mark": {"type": "line", "strokeWidth": 1},
 "encoding": {"y": {"field": "depth", "type": "quantitative", "title": null}, "x": {"field": "qn", "type": "quantitative", "title": "qn* (MPa)"}, "order": {"field": "depth", "type": "quantitative"}, "stroke": {"datum": "Qn* target", "type": "nominal"}}},
{"data": {"name": "pred"}, "transform": [{"filter": "datum.well === '2X619_CDP1-5577(1)'"}], "mark": {"type": "line", "strokeWidth": 1.4},
 "encoding": {"y": {"field": "depth", "type": "quantitative", "title": null}, "x": {"field": "pred", "type": "quantitative", "title": "qn* (MPa)"}, "order": {"field": "depth", "type": "quantitative"}, "stroke": {"datum": "qn* pred.", "type": "nominal"}}}
]
},
{
"width": 125, "height": 450,
"title": "2X599c_CDP1-4562(1)",
"layer": [
{"data": {"name": "units"}, "transform": [{"filter": "datum.well === '2X599c_CDP1-4562(1)'"}], "mark": {"type": "rect", "opacity": 0.9},
 "encoding": {
  "y": {"field": "top", "type": "quantitative", "scale": {"domain": [2, 51], "reverse": true, "nice": false, "zero": false}, "axis": {"values": [10, 20, 30, 40, 50]}, "title": null},
  "y2": {"field": "bottom"},
  "x": {"datum": 0, "type": "quantitative", "scale": {"domain": [0, 70], "nice": false, "zero": false}, "axis": {"values": [0, 25, 50]}, "title": "qn* (MPa)"},
  "x2": {"datum": 70},
  "fill": {"field": "unit", "type": "nominal", "legend": null}
 }},
{"data": {"name": "pred"}, "transform": [{"filter": "datum.well === '2X599c_CDP1-4562(1)'"}], "mark": {"type": "area", "color": "#E8707A", "opacity": 0.35},
 "encoding": {"y": {"field": "depth", "type": "quantitative", "title": null}, "x": {"field": "lo", "type": "quantitative", "title": "qn* (MPa)"}, "x2": {"field": "hi"}}},
{"data": {"name": "target"}, "transform": [{"filter": "datum.well === '2X599c_CDP1-4562(1)'"}], "mark": {"type": "line", "strokeWidth": 1},
 "encoding": {"y": {"field": "depth", "type": "quantitative", "title": null}, "x": {"field": "qn", "type": "quantitative", "title": "qn* (MPa)"}, "order": {"field": "depth", "type": "quantitative"}, "stroke": {"datum": "Qn* target", "type": "nominal"}}},
{"data": {"name": "pred"}, "transform": [{"filter": "datum.well === '2X599c_CDP1-4562(1)'"}], "mark": {"type": "line", "strokeWidth": 1.4},
 "encoding": {"y": {"field": "depth", "type": "quantitative", "title": null}, "x": {"field": "pred", "type": "quantitative", "title": "qn* (MPa)"}, "order": {"field": "depth", "type": "quantitative"}, "stroke": {"datum": "qn* pred.", "type": "nominal"}}}
]
},
{
"width": 125, "height": 450,
"title": "2B521_CDP1-17534(1)",
"layer": [
{"data": {"name": "units"}, "transform": [{"filter": "datum.well === '2B521_CDP1-17534(1)'"}], "mark": {"type": "rect", "opacity": 0.9},
 "encoding": {
  "y": {"field": "top", "type": "quantitative", "scale": {"domain": [2, 51], "reverse": true, "nice": false, "zero": false}, "axis": {"values": [10, 20, 30, 40, 50]}, "title": null},
  "y2": {"field": "bottom"},
  "x": {"datum": 0, "type": "quantitative", "scale": {"domain": [0, 70], "nice": false, "zero": false}, "axis": {"values": [0, 25, 50]}, "title": "qn* (MPa)"},
  "x2": {"datum": 70},
  "fill": {"field": "unit", "type": "nominal", "legend": null}
 }},
{"data": {"name": "pred"}, "transform": [{"filter": "datum.well === '2B521_CDP1-17534(1)'"}], "mark": {"type": "area", "color": "#E8707A", "opacity": 0.35},
 "encoding": {"y": {"field": "depth", "type": "quantitative", "title": null}, "x": {"field": "lo", "type": "quantitative", "title": "qn* (MPa)"}, "x2": {"field": "hi"}}},
{"data": {"name": "target"}, "transform": [{"filter": "datum.well === '2B521_CDP1-17534(1)'"}], "mark": {"type": "line", "strokeWidth": 1},
 "encoding": {"y": {"field": "depth", "type": "quantitative", "title": null}, "x": {"field": "qn", "type": "quantitative", "title": "qn* (MPa)"}, "order": {"field": "depth", "type": "quantitative"}, "stroke": {"datum": "Qn* target", "type": "nominal"}}},
{"data": {"name": "pred"}, "transform": [{"filter": "datum.well === '2B521_CDP1-17534(1)'"}], "mark": {"type": "line", "strokeWidth": 1.4},
 "encoding": {"y": {"field": "depth", "type": "quantitative", "title": null}, "x": {"field": "pred", "type": "quantitative", "title": "qn* (MPa)"}, "order": {"field": "depth", "type": "quantitative"}, "stroke": {"datum": "qn* pred.", "type": "nominal"}}}
]
},
{
"width": 125, "height": 450,
"title": "2X599c_CDP1-14823(1)",
"layer": [
{"data": {"name": "units"}, "transform": [{"filter": "datum.well === '2X599c_CDP1-14823(1)'"}], "mark": {"type": "rect", "opacity": 0.9},
 "encoding": {
  "y": {"field": "top", "type": "quantitative", "scale": {"domain": [2, 51], "reverse": true, "nice": false, "zero": false}, "axis": {"values": [10, 20, 30, 40, 50]}, "title": null},
  "y2": {"field": "bottom"},
  "x": {"datum": 0, "type": "quantitative", "scale": {"domain": [0, 70], "nice": false, "zero": false}, "axis": {"values": [0, 25, 50]}, "title": "qn* (MPa)"},
  "x2": {"datum": 70},
  "fill": {"field": "unit", "type": "nominal", "legend": null}
 }},
{"data": {"name": "pred"}, "transform": [{"filter": "datum.well === '2X599c_CDP1-14823(1)'"}], "mark": {"type": "area", "color": "#E8707A", "opacity": 0.35},
 "encoding": {"y": {"field": "depth", "type": "quantitative", "title": null}, "x": {"field": "lo", "type": "quantitative", "title": "qn* (MPa)"}, "x2": {"field": "hi"}}},
{"data": {"name": "target"}, "transform": [{"filter": "datum.well === '2X599c_CDP1-14823(1)'"}], "mark": {"type": "line", "strokeWidth": 1},
 "encoding": {"y": {"field": "depth", "type": "quantitative", "title": null}, "x": {"field": "qn", "type": "quantitative", "title": "qn* (MPa)"}, "order": {"field": "depth", "type": "quantitative"}, "stroke": {"datum": "Qn* target", "type": "nominal"}}},
{"data": {"name": "pred"}, "transform": [{"filter": "datum.well === '2X599c_CDP1-14823(1)'"}], "mark": {"type": "line", "strokeWidth": 1.4},
 "encoding": {"y": {"field": "depth", "type": "quantitative", "title": null}, "x": {"field": "pred", "type": "quantitative", "title": "qn* (MPa)"}, "order": {"field": "depth", "type": "quantitative"}, "stroke": {"datum": "qn* pred.", "type": "nominal"}}}
]
},
{
"width": 55, "height": 450,
"data": {"name": "codes"},
"mark": {"type": "rect"},
"view": {"stroke": null},
"encoding": {
  "y": {"field": "unit", "type": "nominal", "scale": {"domain": ["A","B","C1","C2","D","E","F","G"], "paddingInner": 0, "paddingOuter": 0.215}, "axis": {"orient": "right", "labelAngle": 0, "domain": false, "titleAngle": -90, "titleBaseline": "top", "titlePadding": 4}, "title": "Code of geological unit"},
  "x": {"datum": 33, "type": "quantitative", "scale": {"domain": [0, 55], "nice": false, "zero": false}, "axis": null},
  "x2": {"datum": 55},
  "fill": {"field": "unit", "type": "nominal", "legend": null}
}
}
]
}
